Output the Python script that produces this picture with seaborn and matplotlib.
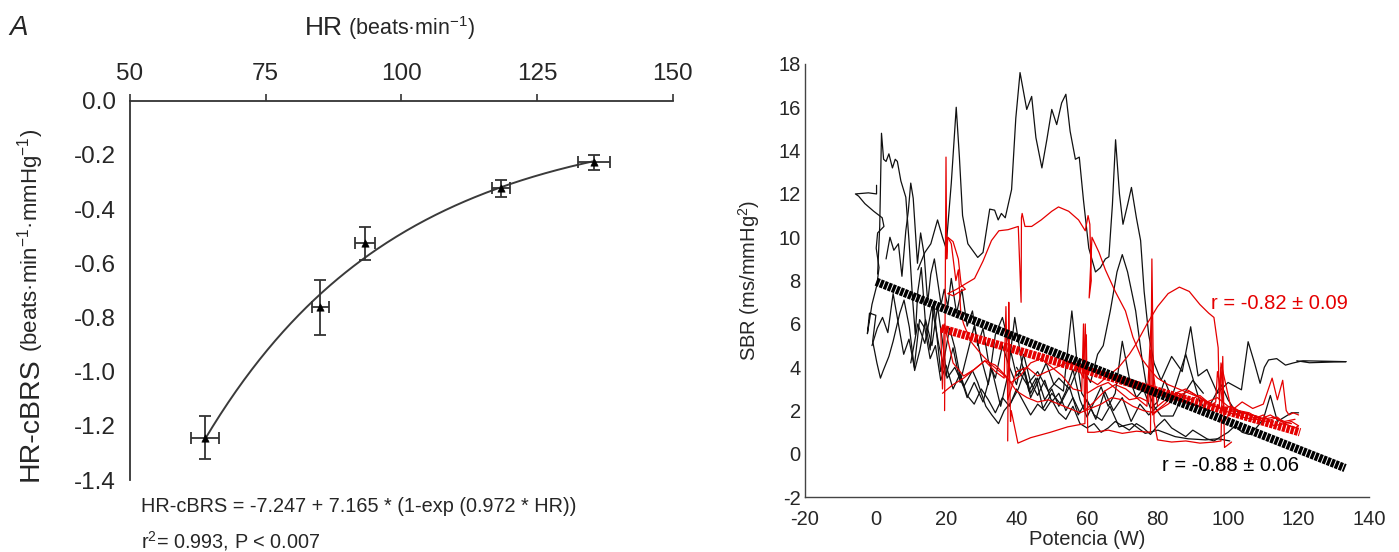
import numpy as np
import pandas as pd
import matplotlib
matplotlib.use("Agg")
import matplotlib.pyplot as plt
import seaborn as sns

# ---- panel A: HR vs HR-cBRS (means +/- SEM) ----
HR_MEAN = [63.8, 85.1, 93.3, 118.4, 135.5]
HR_ERR = [2.6, 1.6, 1.9, 1.7, 2.9]
CBRS_MEAN = [-1.244, -0.763, -0.527, -0.324, -0.227]
CBRS_ERR = [0.08, 0.103, 0.062, 0.032, 0.028]

HR_TICKS = [50, 75, 100, 125, 150]
CBRS_TICKS = [0.0, -0.2, -0.4, -0.6, -0.8, -1.0, -1.2, -1.4]

# ---- panel B: SBR vs power traces ----
K1_X = [12, 14, 15.7, 17.6, 19, 20, 21.5, 22.9, 23.8, 24.7,
        26.2, 29, 30.5, 32.4, 33.8, 34.8, 35.7, 36.8, 38.6, 39.8,
        41.0, 42.9, 44.3, 45.5, 47.2, 48.6, 50, 51.4, 52.8, 54,
        55.2, 56.7, 57.8, 59, 60.5, 62.4, 63.8, 65.2, 66.2, 67.2,
        68.1, 69.2, 70.2, 71.5, 72.6, 74, 75.2, 76.2, 77.5, 79,
        81, 84, 87, 89.4, 91.5, 94, 97, 100, 103.8, 105.7,
        107.5, 109.1, 110.3, 111.5, 113.8, 116.3, 118.5, 121.2, 128, 133.5,
        123.1, 119.5]
K1_Y = [8.5, 9.3, 9.7, 10.8, 10.0, 9.5, 12.5, 16.0, 13.7, 11.0,
        9.7, 9.07, 9.3, 11.3, 11.25, 10.8, 11.1, 10.9, 12.2, 15.5,
        17.6, 15.9, 16.5, 14.6, 13.2, 14.5, 15.9, 15.2, 16.2, 16.6,
        14.9, 13.6, 13.7, 11.7, 9.5, 8.4, 8.6, 9.0, 9.1, 11.5,
        14.5, 12.0, 10.6, 11.5, 12.3, 10.9, 9.85, 7.5, 5.5, 4.2,
        3.4, 4.5, 3.8, 5.87, 3.6, 3.9, 2.8, 3.3, 2.96, 5.18,
        4.2, 3.26, 4.0, 4.34, 4.4, 4.1, 4.2, 4.3, 4.28, 4.26,
        4.21, 4.3]

K2_X = [0.3, 0.3, -2.0, -5.7, -4.8, -3.0, -0.5, 1.9, 2.4, 0.6,
        0.2, 1.0, 0.4, -1.0, -2.3, -1.7, 0.1, -0.8, 0.4, 1.4,
        2.2, 3.8, 5.0, 6.9, 8.1, 9.6, 11.1, 12.6, 14.2, 16.0,
        17.6, 19.0, 20.3, 22.5, 25.0, 27.5, 29.0, 31.3, 33.0, 34.9,
        36.5, 38.5, 40.5, 42.3, 44.0, 46.0, 48.4, 50.5, 53.3, 55.7,
        57.0, 58.5, 60.5, 62.0, 64.2, 66.5, 69.1, 72.8, 76.5, 80.1,
        85.0, 88.7, 93.6, 97.2, 100.5]
K2_Y = [12.4, 12.0, 12.05, 12.0, 11.9, 11.55, 11.2, 10.9, 10.5, 10.2,
        9.5, 8.6, 7.8, 6.9, 5.55, 6.5, 6.4, 5.2, 4.2, 3.5,
        3.85, 4.5, 5.2, 6.5, 7.1, 5.85, 3.85, 4.8, 6.2, 5.0,
        6.8, 5.2, 3.5, 4.0, 3.1, 3.85, 3.3, 2.2, 1.8, 1.4,
        2.0, 2.4, 3.0, 3.85, 2.6, 3.3, 4.2, 3.25, 2.9, 6.6,
        4.5, 2.8, 2.3, 1.8, 1.55, 2.2, 1.25, 1.4, 0.95, 1.1,
        0.8, 0.7, 0.65, 0.7, 0.6]

K3_X = [0.6, 1.2, 1.7, 2.3, 3.0, 3.8, 4.8, 5.6, 6.2, 7.2,
        8.6, 9.5, 10.5, 11.3, 12.0, 13.0, 14.2, 15.5, 16.5, 17.5,
        18.5, 19.6, 21.0, 22.5, 24.0, 26.0, 28.0, 30.5, 33.0, 35.5,
        37.5, 39.5, 41.5, 43.5, 45.5, 47.5, 50.0, 52.5, 55.0, 57.5,
        60.0, 62.5, 65.0, 67.5, 70.0, 72.5, 75.0, 77.5, 80.0]
K3_Y = [8.3, 10.5, 14.8, 13.6, 13.5, 13.85, 13.2, 13.6, 13.5, 12.6,
        11.85, 9.85, 7.2, 5.5, 7.5, 8.6, 6.0, 4.8, 7.0, 5.3,
        3.8, 4.5, 5.8, 4.9, 3.6, 2.6, 3.3, 2.4, 3.9, 2.2,
        3.6, 6.3, 4.2, 2.9, 3.5, 2.1, 2.8, 2.3, 3.1, 1.8,
        2.5, 1.6, 2.9, 2.0, 2.6, 1.5, 2.3, 1.8, 2.2]

K4_X = [3.0, 4.1, 5.2, 6.5, 7.5, 8.6, 9.3, 10.0, 10.7, 11.9,
        12.8, 13.8, 14.8, 15.7, 16.7, 17.6, 18.6, 19.5, 20.5, 21.5,
        23.0, 24.5, 26.0, 27.5, 29.0, 30.5, 32.0, 34.0, 36.0, 38.0,
        40.0, 42.0, 44.0, 46.0, 48.0, 50.0, 52.0, 54.0, 56.0, 58.0]
K4_Y = [9.0, 10.0, 9.4, 9.7, 8.2, 10.3, 11.2, 12.5, 11.8, 8.8,
        10.2, 9.2, 7.0, 8.3, 9.0, 8.0, 6.9, 7.6, 6.8, 8.1,
        6.5, 7.6, 5.9, 6.6, 5.0, 5.8, 4.3, 3.5, 5.0, 4.0,
        3.2, 4.6, 3.3, 2.7, 3.4, 2.4, 2.8, 2.0, 2.6, 1.9]

K5_X = [10, 12, 14, 16, 18, 20, 22, 24, 26, 28,
        30, 32, 34, 36, 38, 40, 42, 44, 46, 48,
        50, 52, 54, 56, 58, 60, 62, 64, 66, 68,
        70, 72, 74, 76, 78, 80, 82, 84, 86, 88,
        90, 92, 94, 96, 98, 100, 102, 104]
K5_Y = [4.2, 6.0, 5.1, 6.8, 5.0, 3.6, 4.9, 3.3, 4.6, 5.9,
        4.4, 3.2, 5.5, 6.3, 5.0, 3.6, 4.0, 2.8, 3.5, 2.5,
        3.0, 2.2, 2.9, 3.9, 2.5, 1.7, 2.4, 3.1, 2.2, 2.8,
        5.2, 3.5, 2.6, 3.0, 2.1, 2.4, 3.4, 2.6, 3.6, 4.6,
        3.5, 2.4, 2.0, 2.6, 3.2, 2.5, 2.0, 1.9]

K6_X = [-1.0, 0.5, 2, 3.5, 5, 6.5, 8, 9.5, 11, 12.5,
        14, 15.5, 17, 18.5, 20, 22, 24, 26, 28, 30,
        32, 34, 36, 38, 40, 42, 44, 46, 48, 50,
        52, 54, 56, 58, 60, 62, 64, 66, 68, 70,
        72, 74, 76, 78, 80, 82, 84, 86, 88, 90,
        92, 94, 96, 98, 100, 102, 104, 106, 108, 110,
        112, 114, 116, 118, 120]
K6_Y = [5.0, 5.8, 6.3, 5.6, 7.4, 6.0, 4.6, 5.3, 4.0, 6.2,
        5.8, 4.4, 5.0, 3.4, 4.1, 3.0, 3.7, 2.7, 2.3, 3.0,
        2.5, 1.9, 2.6, 2.2, 3.0, 2.4, 1.8, 2.3, 2.0, 2.5,
        1.9, 1.6, 2.2, 1.4, 1.2, 1.4, 1.0, 1.2, 1.5, 1.3,
        1.1, 1.4, 1.2, 0.9, 1.3, 1.6, 1.2, 1.0, 0.8, 1.1,
        0.9, 0.7, 0.6, 0.8, 1.0, 1.3, 1.0, 0.9, 1.2, 1.6,
        2.7, 1.5, 1.7, 1.9, 1.9]

K7_X = [40, 43, 46, 49, 52, 55, 58, 61, 63, 64.6,
        66.6, 68.5, 70, 71.5, 73.8, 75.5, 77, 79, 81, 84.4,
        86, 88, 90, 93]
K7_Y = [4.0, 3.2, 3.8, 2.9, 3.5, 3.0, 4.2, 3.3, 4.6, 5.0,
        6.6, 8.4, 9.2, 8.4, 6.6, 4.5, 3.0, 2.2, 1.75, 1.75,
        2.3, 2.9, 3.4, 2.8]

R1_X = [19.6, 19.8, 20.0, 20.2, 20.5, 22.0, 23.5, 24.3, 25.5, 24.0,
        22.0, 20.5, 23.0, 25.5, 28.1, 30.5, 32.9, 35.0, 37.6, 40.5,
        41.3, 41.4, 41.6, 42.4, 43.0, 44.3, 47.0, 50.0, 51.9, 54.8,
        57.6, 59.5, 60.3, 60.8, 61.2, 60.6, 61.4, 63.4, 65.2, 68.0,
        70.9, 73.0, 75.5, 77.8, 80.0, 83.0, 86.0, 89.0, 92.0, 95.0,
        98.0, 101.0, 104.0, 107.0, 110.0, 113.0, 116.0, 119.0]
R1_Y = [2.0, 8.0, 13.7, 9.0, 10.0, 9.8, 9.0, 7.8, 7.6, 7.5,
        7.3, 7.4, 7.6, 7.85, 8.1, 8.9, 9.85, 10.3, 10.35, 10.5,
        7.0, 10.9, 11.1, 10.5, 10.5, 10.5, 10.8, 11.2, 11.4, 11.2,
        10.8, 10.3, 11.0, 10.6, 8.0, 7.2, 10.0, 9.3, 8.5, 7.5,
        6.6, 5.4, 4.4, 3.9, 3.5, 3.2, 3.0, 2.8, 2.6, 2.3,
        2.1, 2.2, 1.9, 1.8, 1.6, 1.7, 1.5, 1.6]

R2_X = [37.5, 37.8, 38.0, 38.3, 38.5, 40.4, 44.0, 49.6, 54.5, 59.4,
        59.8, 60.2, 62.0, 66.0, 70.0, 74.0, 78.0, 78.4, 79.0, 80.0,
        84.0, 88.0, 92.0, 96.0, 98.0, 98.5, 99.0, 101.0]
R2_Y = [0.6, 7.0, 4.0, 1.5, 2.0, 0.5, 0.75, 1.0, 1.25, 1.4,
        5.5, 1.0, 1.0, 1.1, 0.95, 1.05, 1.0, 9.0, 1.5, 0.65,
        0.55, 0.6, 0.5, 0.55, 0.6, 4.5, 0.3, 0.55]

R3_X = [60.0, 63.0, 66.0, 69.0, 72.0, 74.0, 77.0, 80.0, 83.0, 86.2,
        89.0, 92.0, 94.5, 96.0, 97.2, 97.5, 98.0, 99.0, 101, 104,
        107, 110, 112.5, 114, 115.5, 116.5, 117.3, 118.5, 120]
R3_Y = [3.5, 3.2, 3.6, 4.0, 4.6, 5.1, 6.0, 6.8, 7.4, 7.7,
        7.5, 6.9, 6.5, 6.3, 4.9, 2.5, 4.0, 1.5, 2.0, 2.4,
        2.1, 2.3, 3.5, 2.5, 3.4, 2.0, 1.8, 1.9, 1.8]

R4_X = [18.5, 19.0, 19.5, 22.0, 25.0, 28.0, 31.0, 34.0, 36.5, 37.0,
        37.5, 40.0, 43.0, 46.0, 50.0, 54.0, 57.0, 59.0, 59.5, 60.0,
        63.0, 66.0, 69.0, 72.0, 75.0, 77.5, 78.0, 80.0, 83.0, 86.0,
        89.0, 92.0, 95.0, 97.5, 98.0, 101.0, 104.0, 107.0, 110.0, 113.0,
        116.0, 119.0, 120.0]
R4_Y = [5.8, 3.0, 6.0, 4.2, 3.6, 3.9, 4.3, 3.8, 3.5, 6.8,
        2.5, 3.8, 4.0, 3.6, 3.9, 4.2, 4.1, 3.5, 6.0, 2.8,
        3.1, 3.3, 2.9, 2.5, 2.6, 2.4, 4.8, 2.2, 2.6, 2.8,
        2.5, 2.7, 2.3, 2.1, 4.2, 2.0, 1.7, 1.6, 1.8, 1.3,
        1.4, 1.2, 1.3]

R5_X = [20.5, 21.5, 22.8, 23.5, 24.2, 25.0, 27.0, 30.0, 33.0, 36.0,
        38.5, 41, 44, 47, 50, 53, 56, 58.5, 59.0, 59.3,
        62, 65, 68, 71, 74, 77, 78.3, 78.6, 80, 83,
        86, 89, 92, 95, 96.5, 97, 99, 102, 105, 108,
        111, 114, 116, 118, 120]
R5_Y = [10.0, 9.7, 8.0, 8.5, 6.5, 6.0, 5.2, 4.6, 4.1, 3.7,
        3.3, 3.6, 4.2, 4.4, 4.0, 3.6, 3.0, 2.9, 6.0, 2.0,
        2.4, 2.9, 3.2, 3.0, 2.6, 2.2, 6.5, 1.8, 2.0, 2.3,
        2.7, 2.9, 2.6, 2.2, 2.4, 3.8, 2.0, 1.8, 1.9, 1.6,
        1.5, 1.7, 1.4, 1.5, 1.3]

R6_X = [19.0, 22, 25, 28, 31, 34, 37, 40, 43, 46,
        49, 52, 55, 58, 61, 64, 67, 70, 73, 76,
        79, 82, 85, 88, 91, 94, 97, 100, 103, 106,
        109, 112, 115, 118]
R6_Y = [2.8, 3.2, 3.5, 3.9, 4.3, 4.1, 3.6, 2.9, 2.6, 2.4,
        2.5, 2.3, 2.1, 1.9, 2.1, 2.3, 2.6, 2.5, 2.2, 2.0,
        1.9, 2.3, 2.8, 3.0, 2.7, 2.4, 2.6, 2.2, 2.0, 1.9,
        1.6, 1.8, 1.5, 1.4]

# regression lines (end points)
FIT_BLACK_X = [0.2, 133.2]
FIT_BLACK_Y = [7.95, -0.65]
FIT_RED_X = [18.6, 120.4]
FIT_RED_Y = [5.8, 1.0]

POWER_TICKS = [-20, 0, 20, 40, 60, 80, 100, 120, 140]
SBR_TICKS = [-2, 0, 2, 4, 6, 8, 10, 12, 14, 16, 18]

RED = "#e50000"

sns.set_theme(style="white")
plt.rcParams["font.family"] = ["Liberation Sans", "DejaVu Sans"]
plt.rcParams["mathtext.fontset"] = "custom"
plt.rcParams["mathtext.rm"] = "Liberation Sans"
plt.rcParams["mathtext.it"] = "Liberation Sans:italic"
plt.rcParams["axes.unicode_minus"] = False

fig = plt.figure(figsize=(13.99, 5.52), dpi=100)
ax1 = fig.add_axes([0.0929, 0.1304, 0.3879, 0.6872])
ax2 = fig.add_axes([0.5754, 0.0991, 0.4032, 0.7851])

# ---------- panel A ----------
hr = np.array(HR_MEAN)
cb = np.array(CBRS_MEAN)
best = None
for k in np.linspace(0.002, 0.1, 1000):
    M = np.column_stack([np.ones_like(hr), np.exp(-k * hr)])
    coef, res, _, _ = np.linalg.lstsq(M, cb, rcond=None)
    err = np.sum((M @ coef - cb) ** 2)
    if best is None or err < best[0]:
        best = (err, k, coef)
_, k_fit, c_fit = best
xs = np.linspace(hr.min(), hr.max(), 200)
curve = pd.DataFrame({"hr": xs, "cbrs": c_fit[0] + c_fit[1] * np.exp(-k_fit * xs)})
sns.lineplot(data=curve, x="hr", y="cbrs", ax=ax1, color="#3a3a3a", lw=1.4)

ax1.errorbar(HR_MEAN, CBRS_MEAN, xerr=HR_ERR, yerr=CBRS_ERR, fmt="none",
             ecolor="#333333", elinewidth=1.3, capsize=4, capthick=1.3, zorder=3)
pts = pd.DataFrame({"hr": HR_MEAN, "cbrs": CBRS_MEAN})
sns.scatterplot(data=pts, x="hr", y="cbrs", ax=ax1, marker="^", s=28,
                color="black", edgecolor="black", zorder=4)

ax1.set_xlim(50, 150)
ax1.set_ylim(-1.4, 0.0)
ax1.xaxis.tick_top()
ax1.set_xticks(HR_TICKS)
ax1.set_yticks(CBRS_TICKS)
ax1.set_yticklabels([f"{v:.1f}" for v in CBRS_TICKS])
ax1.tick_params(axis="both", direction="out", length=5, width=1.2,
                color="#333333", labelsize=17.5, pad=5)
ax1.tick_params(axis="x", pad=6)
for side in ["right", "bottom"]:
    ax1.spines[side].set_visible(False)
for side in ["top", "left"]:
    ax1.spines[side].set_color("#333333")
    ax1.spines[side].set_linewidth(1.3)
ax1.set_xlabel("")
ax1.set_ylabel("")

fig.text(9 / 1399, 1 - 35 / 552, "A", fontsize=20, style="italic", va="baseline")
fig.text(343 / 1399, 1 - 35 / 552, "HR", fontsize=19, ha="right", va="baseline")
fig.text(348 / 1399, 1 - 35 / 552, r"(beats·min$^{\mathrm{-1}}$)", fontsize=15.5,
         ha="left", va="baseline")
fig.text(31 / 1399, 1 - 481 / 552, "HR-cBRS", fontsize=20.5, rotation=90,
         ha="center", va="bottom")
fig.text(31 / 1399, 1 - 352 / 552, r"(beats·min$^{\mathrm{-1}}$·mmHg$^{\mathrm{-1}}$)",
         fontsize=16, rotation=90, ha="center", va="bottom")
fig.text(141 / 1399, 1 - 507 / 552,
         "HR-cBRS = -7.247 + 7.165 * (1-exp (0.972 * HR))", fontsize=14.3, va="center")
fig.text(141 / 1399, 1 - 541 / 552, r"r$^{\mathrm{2}}$= 0.993, P < 0.007",
         fontsize=14.3, va="center")

# ---------- panel B ----------
black_traces = [(K1_X, K1_Y), (K2_X, K2_Y), (K3_X, K3_Y), (K4_X, K4_Y),
                (K5_X, K5_Y), (K6_X, K6_Y), (K7_X, K7_Y)]
red_traces = [(R1_X, R1_Y), (R2_X, R2_Y), (R3_X, R3_Y), (R4_X, R4_Y),
              (R5_X, R5_Y), (R6_X, R6_Y)]

for tx, ty in black_traces:
    sns.lineplot(x=tx, y=ty, ax=ax2, sort=False, estimator=None,
                 color="#111111", lw=0.9)
for tx, ty in red_traces:
    sns.lineplot(x=tx, y=ty, ax=ax2, sort=False, estimator=None,
                 color=RED, lw=0.9)

# striped regression lines
ax2.plot(FIT_RED_X, FIT_RED_Y, color=RED, lw=6, dash_capstyle="butt",
         linestyle=(0, (0.4, 0.12)), zorder=5)
ax2.plot(FIT_BLACK_X, FIT_BLACK_Y, color="black", lw=6, dash_capstyle="butt",
         linestyle=(0, (0.4, 0.12)), zorder=6)

ax2.text(95.1, 6.95, "r = -0.82 ± 0.09", color=RED, fontsize=14.5, va="center")
ax2.text(81.3, -0.51, "r = -0.88 ± 0.06", color="black", fontsize=14.5, va="center")

ax2.set_xlim(-20, 140)
ax2.set_ylim(-2, 18)
ax2.set_xticks(POWER_TICKS)
ax2.set_yticks(SBR_TICKS)
ax2.tick_params(axis="both", direction="in", length=5, width=1.0,
                color="#444444", labelsize=14.5, pad=3)
ax2.tick_params(axis="x", pad=9)
for side in ["right", "top"]:
    ax2.spines[side].set_visible(False)
for side in ["left", "bottom"]:
    ax2.spines[side].set_color("#444444")
    ax2.spines[side].set_linewidth(1.0)
ax2.set_xlabel("Potencia (W)", fontsize=14.5, labelpad=1)
ax2.set_ylabel(r"SBR (ms/mmHg$^{\mathrm{2}}$)", fontsize=14.5, labelpad=12)

fig.savefig("out.png", dpi=100)
